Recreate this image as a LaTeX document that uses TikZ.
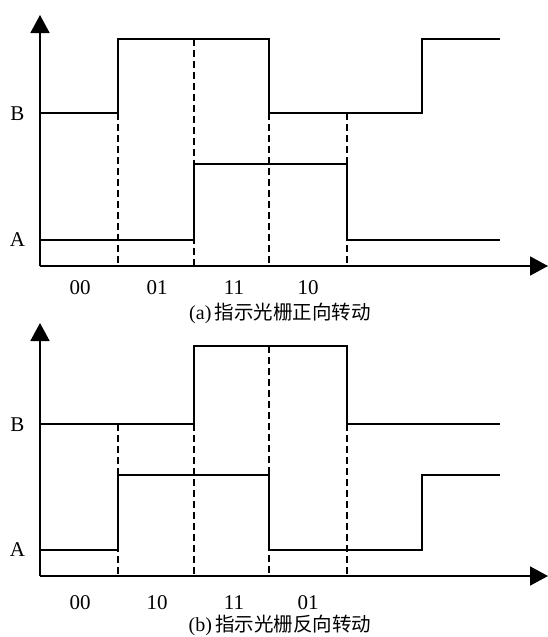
\documentclass[tikz,border=0pt]{standalone}
\usepackage{fontspec}
\setmainfont{Liberation Serif}
\newfontfamily\cjk{Noto Sans CJK SC}
\usetikzlibrary{arrows.meta}
\begin{document}
\begin{tikzpicture}[x=1pt,y=-1pt,
  sig/.style={line width=1.7pt},
  axis/.style={line width=1.7pt,-{Triangle[width=19pt,length=18pt]}},
  guide/.style={line width=1.4pt,dash pattern=on 7pt off 4pt},
  lbl/.style={font=\fontsize{21}{23}\selectfont,inner sep=0pt},
  captext/.style={font=\fontsize{20}{22}\selectfont,inner sep=0pt}]
\useasboundingbox (0,0) rectangle (548,637);
% ---------- (a) ----------
\coordinate (oa) at (40,266);
\coordinate (ya) at (40,15);
\coordinate (xa) at (548,266);
\draw[axis] (oa) -- (ya);
\draw[axis] (oa) -- (xa);
\draw[guide] (118,113) -- (118,266);
\draw[guide] (194,39) -- (194,266);
\draw[guide] (269,113) -- (269,266);
\draw[guide] (347,113) -- (347,266);
\draw[sig] (40,113) -- (118,113) -- (118,39) -- (269,39) -- (269,113) -- (422,113) -- (422,39) -- (500,39);
\draw[sig] (40,240) -- (194,240) -- (194,164) -- (347,164) -- (347,240) -- (500,240);
\node[lbl] (Ba) at (17.5,114) {B};
\node[lbl] (Aa) at (17.5,239.5) {A};
\node[lbl] (a1) at (80,288) {00};
\node[lbl] (a2) at (157,288) {01};
\node[lbl] (a3) at (234,288) {11};
\node[lbl] (a4) at (308,288) {10};
\node[captext] (capa) at (280,313) {(a)\,{\cjk\fontsize{19.5}{22}\selectfont 指示光栅正向转动}};
% ---------- (b) ----------
\coordinate (ob) at (40,576);
\coordinate (yb) at (40,323);
\coordinate (xb) at (548,576);
\draw[axis] (ob) -- (yb);
\draw[axis] (ob) -- (xb);
\draw[guide] (118,424) -- (118,576);
\draw[guide] (194,424) -- (194,576);
\draw[guide] (269,346) -- (269,576);
\draw[guide] (347,424) -- (347,576);
\draw[sig] (40,424) -- (194,424) -- (194,346) -- (347,346) -- (347,424) -- (500,424);
\draw[sig] (40,550) -- (118,550) -- (118,475) -- (269,475) -- (269,550) -- (422,550) -- (422,475) -- (500,475);
\node[lbl] (Bb) at (17.5,424.5) {B};
\node[lbl] (Ab) at (17.5,549.5) {A};
\node[lbl] (b1) at (80,603) {00};
\node[lbl] (b2) at (157,603) {10};
\node[lbl] (b3) at (234,603) {11};
\node[lbl] (b4) at (308,603) {01};
\node[captext] (capb) at (280,625) {(b)\,{\cjk\fontsize{19.5}{22}\selectfont 指示光栅反向转动}};
\end{tikzpicture}
\end{document}
